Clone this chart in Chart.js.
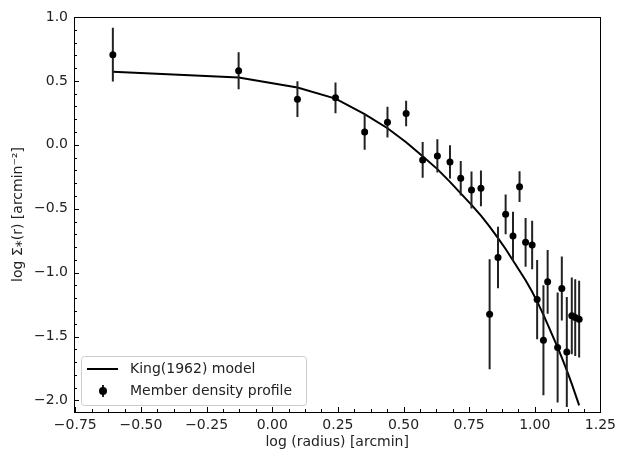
<!DOCTYPE html>
<html lang="en">
<head>
    <meta charset="UTF-8">
    <title>King profile</title>
    <style>
        body { margin: 0; background: #fff; }
        canvas { display: block; }
    </style>
</head>
<body>
    <canvas id="kingChart" width="621" height="452"></canvas>

    <script src="https://cdn.jsdelivr.net/npm/chart.js"></script>
    <script>
        // observed radial density profile (log scale)
        const radiusLog = [-0.607, -0.128, 0.096, 0.241, 0.352, 0.439, 0.510, 0.573, 0.629, 0.677,
                           0.718, 0.759, 0.795, 0.828, 0.860, 0.889, 0.917, 0.942, 0.965, 0.990,
                           1.009, 1.033, 1.049, 1.087, 1.103, 1.122, 1.141, 1.154, 1.169];
        const densityLog = [0.705, 0.579, 0.357, 0.368, 0.101, 0.177, 0.245, -0.118, -0.087, -0.134,
                            -0.262, -0.353, -0.340, -1.325, -0.881, -0.544, -0.714, -0.327, -0.763, -0.784,
                            -1.210, -1.529, -1.072, -1.586, -1.124, -1.620, -1.338, -1.351, -1.364];
        const densityErr = [0.21, 0.145, 0.14, 0.12, 0.14, 0.12, 0.10, 0.14, 0.13, 0.13,
                            0.135, 0.145, 0.14, 0.43, 0.24, 0.155, 0.19, 0.12, 0.19, 0.19,
                            0.31, 0.43, 0.25, 0.43, 0.25, 0.43, 0.30, 0.30, 0.30];
        // King (1962) fit evaluated at the same radii
        const kingModel = [0.571, 0.527, 0.448, 0.362, 0.240, 0.130, 0.020, -0.090, -0.190, -0.290,
                           -0.380, -0.470, -0.553, -0.640, -0.730, -0.815, -0.905, -0.985, -1.060, -1.150,
                           -1.225, -1.330, -1.405, -1.585, -1.665, -1.765, -1.870, -1.948, -2.038];

        const xTicks = [-0.75, -0.50, -0.25, 0.00, 0.25, 0.50, 0.75, 1.00, 1.25];
        const yTicks = [-2.0, -1.5, -1.0, -0.5, 0.0, 0.5, 1.0];
        const xMinorStep = 0.0625;
        const yMinorStep = 0.1;

        const FONT = "'DejaVu Sans', sans-serif";
        const TXT = '#222';

        function minus(s) { return s.replace('-', '\u2212'); }

        const modelPts = radiusLog.map((x, i) => ({x: x, y: kingModel[i]}));
        const obsPts = radiusLog.map((x, i) => ({x: x, y: densityLog[i]}));
        // error bars: one short segment per point, broken by null gaps
        const errPts = [];
        radiusLog.forEach((x, i) => {
            errPts.push({x: x, y: densityLog[i] - densityErr[i]});
            errPts.push({x: x, y: densityLog[i] + densityErr[i]});
            errPts.push({x: x, y: null});
        });

        // inward ticks, full frame and the legend box
        const framePlugin = {
            id: 'frame',
            afterDatasetsDraw(chart) {
                const ctx = chart.ctx;
                const a = chart.chartArea;
                const xs = chart.scales.x, ys = chart.scales.y;
                ctx.save();
                ctx.strokeStyle = '#000';
                ctx.lineWidth = 1;
                ctx.beginPath();
                // x ticks
                for (let v = xTicks[0] - 4 * xMinorStep; v <= xs.max + 1e-9; v += xMinorStep) {
                    if (v < xs.min) continue;
                    const px = Math.round(xs.getPixelForValue(v)) + 0.5;
                    const major = xTicks.some(t => Math.abs(t - v) < 1e-6);
                    const len = major ? 5 : 3;
                    ctx.moveTo(px, a.bottom);
                    ctx.lineTo(px, a.bottom - len);
                }
                // y ticks
                for (let v = -2.0; v <= ys.max + 1e-9; v += yMinorStep) {
                    const py = Math.round(ys.getPixelForValue(v)) + 0.5;
                    const major = yTicks.some(t => Math.abs(t - v) < 1e-6);
                    const len = major ? 5 : 3;
                    ctx.moveTo(a.left, py);
                    ctx.lineTo(a.left + len, py);
                }
                ctx.stroke();
                ctx.strokeRect(Math.round(a.left) + 0.5, Math.round(a.top) + 0.5,
                               Math.round(a.right - a.left), Math.round(a.bottom - a.top));

                // legend
                const bx = 81.5, by = 356.5, bw = 225, bh = 49, r = 3;
                ctx.beginPath();
                ctx.moveTo(bx + r, by);
                ctx.arcTo(bx + bw, by, bx + bw, by + bh, r);
                ctx.arcTo(bx + bw, by + bh, bx, by + bh, r);
                ctx.arcTo(bx, by + bh, bx, by, r);
                ctx.arcTo(bx, by, bx + bw, by, r);
                ctx.closePath();
                ctx.fillStyle = 'rgba(255,255,255,0.8)';
                ctx.fill();
                ctx.strokeStyle = '#cccccc';
                ctx.stroke();

                ctx.strokeStyle = '#000';
                ctx.lineWidth = 2;
                ctx.beginPath();
                ctx.moveTo(87, 369);
                ctx.lineTo(118, 369);
                ctx.stroke();
                ctx.strokeStyle = '#222';
                ctx.beginPath();
                ctx.moveTo(103, 385);
                ctx.lineTo(103, 397);
                ctx.stroke();
                ctx.fillStyle = '#000';
                ctx.beginPath();
                ctx.arc(103, 391, 4, 0, Math.PI * 2);
                ctx.fill();

                ctx.fillStyle = TXT;
                ctx.font = '14px ' + FONT;
                ctx.textBaseline = 'middle';
                ctx.textAlign = 'left';
                ctx.fillText('King(1962) model', 130, 369);
                ctx.fillText('Member density profile', 130, 391);
                ctx.restore();
            }
        };

        const ctx = document.getElementById('kingChart').getContext('2d');
        const chart = new Chart(ctx, {
            type: 'line',
            data: {
                datasets: [
                    {
                        label: 'Member density profile',
                        data: obsPts,
                        showLine: false,
                        pointRadius: 3.5,
                        pointBackgroundColor: '#000',
                        pointBorderWidth: 0,
                        order: 0
                    },
                    {
                        label: 'errors',
                        data: errPts,
                        borderColor: '#222',
                        borderWidth: 2,
                        pointRadius: 0,
                        spanGaps: false,
                        order: 1
                    },
                    {
                        label: 'King(1962) model',
                        data: modelPts,
                        borderColor: '#000',
                        borderWidth: 2,
                        pointRadius: 0,
                        tension: 0,
                        order: 2
                    }
                ]
            },
            options: {
                responsive: false,
                animation: false,
                layout: { padding: { top: 17, right: 18, left: 0, bottom: 0 } },
                plugins: {
                    legend: { display: false },
                    tooltip: { enabled: false }
                },
                scales: {
                    x: {
                        type: 'linear',
                        min: -0.755,
                        max: 1.25,
                        afterFit(scale) { scale.height = 40; },
                        afterBuildTicks(scale) { scale.ticks = xTicks.map(v => ({value: v})); },
                        grid: { display: false, drawTicks: false },
                        border: { display: false },
                        ticks: {
                            padding: 5,
                            color: TXT,
                            font: { family: FONT, size: 14 },
                            maxRotation: 0,
                            autoSkip: false,
                            callback: v => minus(v.toFixed(2))
                        },
                        title: {
                            display: true,
                            text: 'log (radius) [arcmin]',
                            color: TXT,
                            font: { family: FONT, size: 14 },
                            padding: { top: 0, bottom: 1 }
                        }
                    },
                    y: {
                        type: 'linear',
                        min: -2.09,
                        max: 1.0,
                        afterFit(scale) { scale.width = 74; },
                        afterBuildTicks(scale) { scale.ticks = yTicks.map(v => ({value: v})); },
                        grid: { display: false, drawTicks: false },
                        border: { display: false },
                        ticks: {
                            padding: 6,
                            color: TXT,
                            font: { family: FONT, size: 14 },
                            autoSkip: false,
                            callback: v => minus(v.toFixed(1))
                        },
                        title: {
                            display: true,
                            text: 'log \u03A3\u204E(r) [arcmin\u207B\u00B2]',
                            color: TXT,
                            font: { family: FONT, size: 14 },
                            padding: { top: 10, bottom: 0 }
                        }
                    }
                }
            },
            plugins: [framePlugin]
        });
    </script>
</body>
</html>
